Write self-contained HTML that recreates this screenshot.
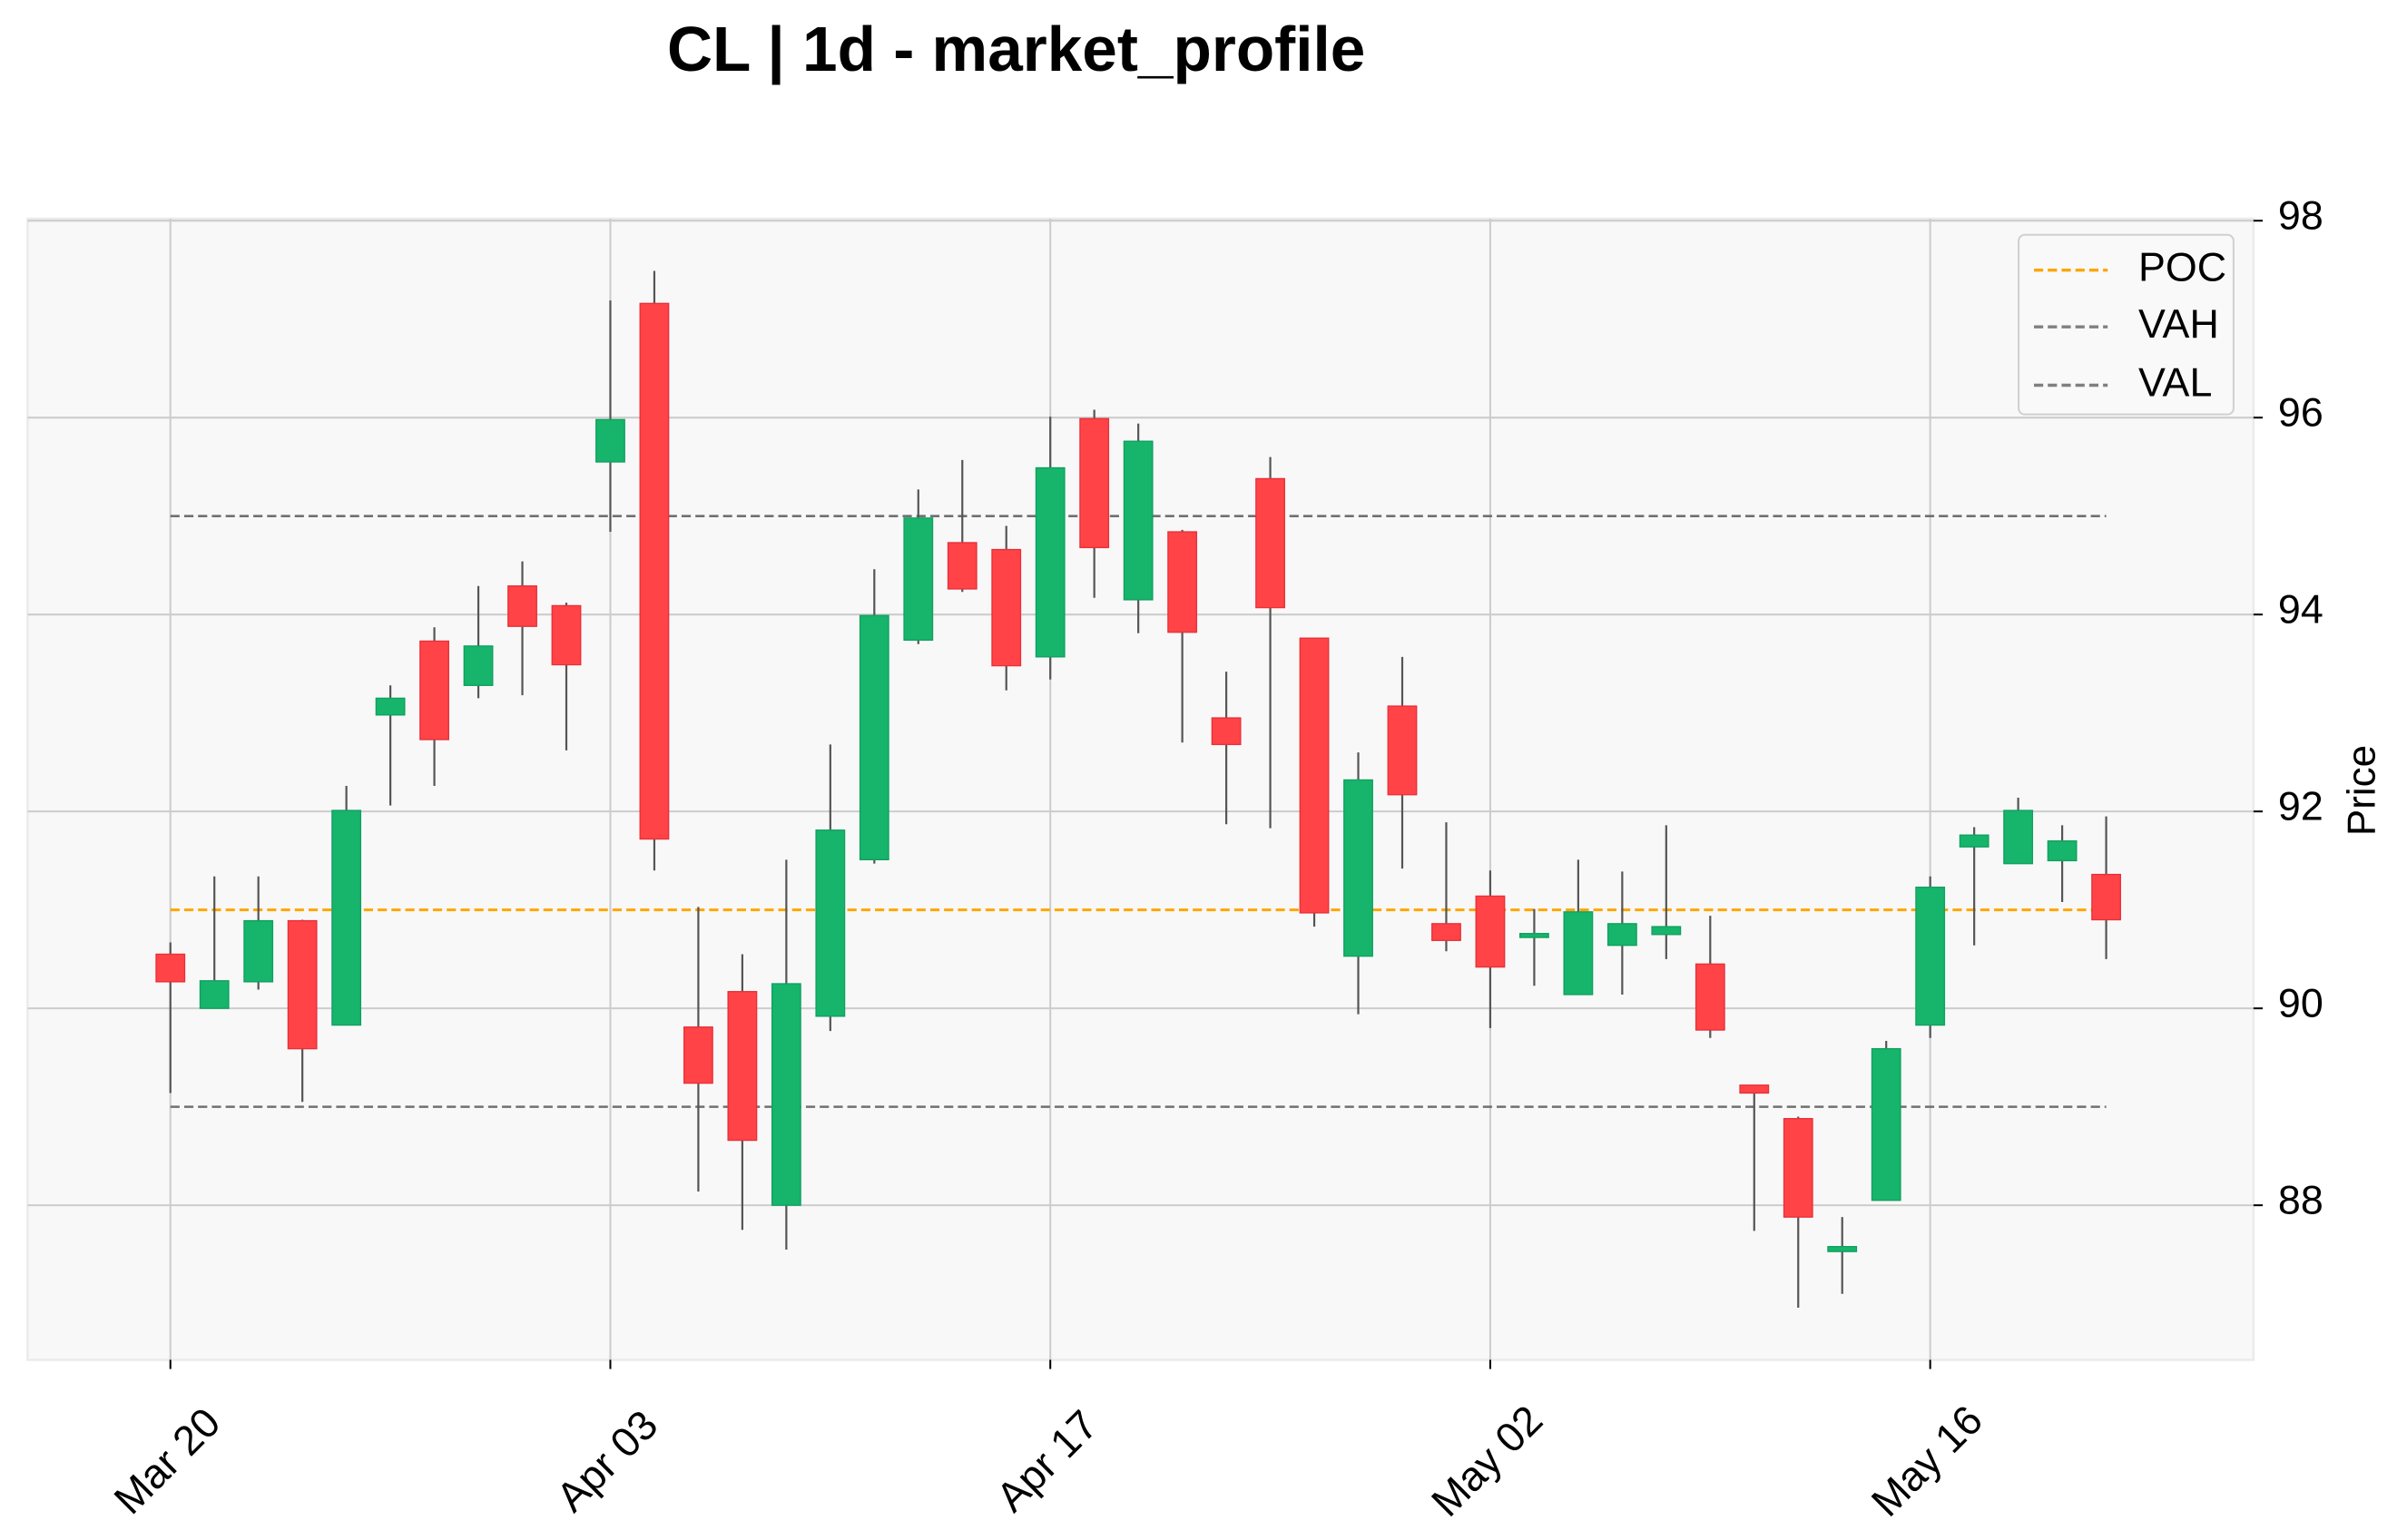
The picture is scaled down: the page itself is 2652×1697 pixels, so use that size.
<!DOCTYPE html>
<html><head><meta charset="utf-8"><style>
html,body{margin:0;padding:0;background:#fff;}
svg{display:block;font-family:"Liberation Sans","DejaVu Sans",sans-serif;}
</style></head><body>
<svg id="chart" width="2652" height="1697" viewBox="0 0 1568 1003.4" preserveAspectRatio="none" xmlns="http://www.w3.org/2000/svg">
<text x="662" y="46" text-anchor="middle" style="font-size:41px;font-weight:bold" fill="#000">CL | 1d - market_profile</text>
<rect x="18" y="142.5" width="1450" height="743.5" fill="#f8f8f8" stroke="#ebebeb" stroke-width="1.5"/>
<g id="grid"></g>
<g id="levels"></g>
<g id="candles"></g>
<g id="axes"></g>
<text transform="translate(1547,515) rotate(-90)" text-anchor="middle" style="font-size:26px" fill="#000">Price</text>
<g>
<rect x="1315" y="153" width="140" height="117" rx="4" fill="#f9f9f9" stroke="#d0d0d0" stroke-width="1.2"/>
<line x1="1325" y1="176" x2="1373" y2="176" stroke="#ffa500" stroke-width="2" stroke-dasharray="6,3"/>
<text x="1393" y="183" style="font-size:26.5px">POC</text>
<line x1="1325" y1="213" x2="1373" y2="213" stroke="#808080" stroke-width="2" stroke-dasharray="6,3"/>
<text x="1393" y="220" style="font-size:26.5px">VAH</text>
<line x1="1325" y1="251" x2="1373" y2="251" stroke="#808080" stroke-width="2" stroke-dasharray="6,3"/>
<text x="1393" y="258" style="font-size:26.5px">VAL</text>
</g>
</svg>
<script>
const opens  = [90.55,90.0,90.27,90.89,89.83,92.98,93.73,93.28,94.29,94.09,95.55,97.16,89.81,90.17,88.0,89.92,91.51,93.74,94.73,94.66,93.57,95.99,94.15,94.84,92.95,95.38,93.76,90.53,93.07,90.86,91.14,90.72,90.14,90.64,90.75,90.45,89.22,88.88,87.53,88.05,89.83,91.64,91.47,91.50,91.36];
const closes = [90.27,90.28,90.89,89.59,92.01,93.15,92.73,93.68,93.88,93.49,95.98,91.72,89.24,88.66,90.25,91.81,93.99,94.98,94.26,93.48,95.49,94.68,95.76,93.82,92.68,94.07,90.97,92.32,92.17,90.69,90.42,90.76,90.98,90.86,90.83,89.78,89.14,87.88,87.58,89.59,91.23,91.76,92.01,91.70,90.90];
const highs  = [90.67,91.34,91.34,90.9,92.26,93.28,93.87,94.29,94.54,94.12,97.19,97.49,91.03,90.55,91.51,92.68,94.46,95.27,95.57,94.90,96.01,96.08,95.94,94.86,93.42,95.60,93.76,92.6,93.57,91.89,91.40,91.01,91.51,91.39,91.86,90.94,89.22,88.9,87.88,89.67,91.34,91.84,92.14,91.86,91.95];
const lows   = [89.14,90.0,90.19,89.05,89.83,92.06,92.26,93.15,93.18,92.62,94.84,91.40,88.14,87.75,87.55,89.77,91.47,93.70,94.23,93.23,93.34,94.17,93.81,92.70,91.87,91.83,90.83,89.94,91.42,90.58,89.80,90.23,90.14,90.14,90.50,89.70,87.74,86.96,87.10,88.05,89.70,90.64,91.47,91.08,90.50];
const xTickLabels = ["Mar 20","Apr 03","Apr 17","May 02","May 16"];
const xTickIdx = [0,10,20,30,40];
const yTicks = [88,90,92,94,96,98];
const levelNames = ["POC","VAH","VAL"];
const levelValues = [91,95,89];

const NS="http://www.w3.org/2000/svg";
const X0=111, DX=28.66, Y90=657, PY=64.15;
const xs=i=>X0+i*DX;
const ys=p=>Y90-(p-90)*PY;
function mk(tag,attrs,parent){const e=document.createElementNS(NS,tag);for(const k in attrs)e.setAttribute(k,attrs[k]);parent.appendChild(e);return e;}
const grid=document.getElementById('grid'),axes=document.getElementById('axes'),lv=document.getElementById('levels'),cg=document.getElementById('candles');
yTicks.forEach(t=>{
  const g=mk('line',{x1:18,x2:1468,y1:ys(t),y2:ys(t),stroke:'#cccccc','stroke-width':1.2},grid);
  
  
  const tk=mk('line',{x1:1468,x2:1474,y1:ys(t),y2:ys(t),stroke:'#000','stroke-width':1.2},axes);
  
  
  const tx=mk('text',{x:1484,y:ys(t)+5.5,style:'font-size:26.5px',fill:'#000'},axes);
  tx.textContent=t;
  
  
});
xTickIdx.forEach((idx,k)=>{
  const x=xs(idx);
  const g=mk('line',{x1:x,x2:x,y1:142.5,y2:886,stroke:'#cccccc','stroke-width':1.2},grid);
  
  
  const tk=mk('line',{x1:x,x2:x,y1:886,y2:892,stroke:'#000','stroke-width':1.2},axes);
  
  
  const cx=x-2, cy=952;
  const tx=mk('text',{x:cx,y:cy+9,style:'font-size:27px','text-anchor':'middle',transform:`rotate(-45 ${cx} ${cy})`},axes);
  tx.textContent=xTickLabels[k];
  
  
});
levelValues.forEach((v,k)=>{
  const l=mk('line',{x1:xs(0),x2:xs(opens.length-1),y1:ys(v),y2:ys(v),stroke:k===0?'#ffa500':'#707070','stroke-width':k===0?1.8:1.5,'stroke-dasharray':'6,3'},lv);
  
  
});
const W=18.6;
opens.forEach((o,i)=>{
  const c=closes[i],x=xs(i),up=c>=o;
  const w=mk('line',{x1:x,x2:x,y1:ys(highs[i]),y2:ys(lows[i]),stroke:'#555','stroke-width':1.3},cg);
  
  
  const top=ys(Math.max(o,c)),bot=ys(Math.min(o,c));
  const col=up?'#17b46b':'#ff4347';
  const r=mk('rect',{x:x-W/2,y:top,width:W,height:Math.max(bot-top,1.5),fill:col,stroke:up?'#10a060':'#e83038','stroke-width':0.8},cg);
  
  
});
</script>
</body></html>
